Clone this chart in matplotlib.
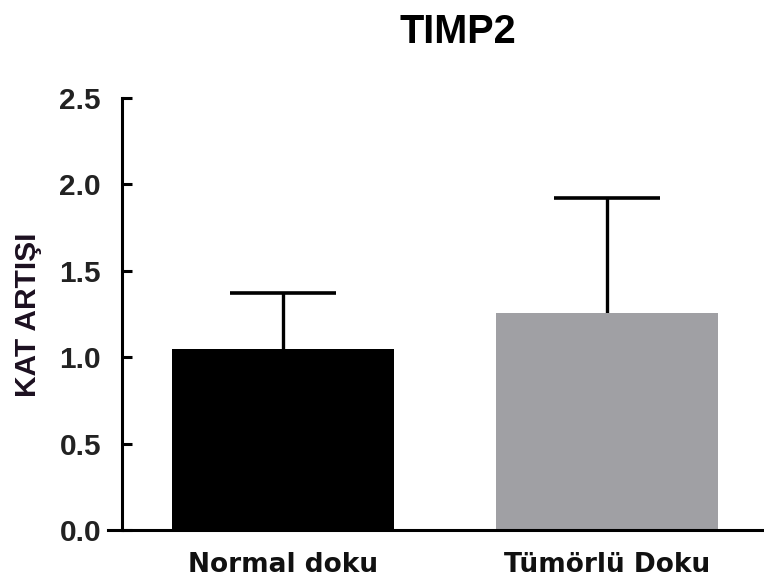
import numpy as np
import matplotlib
matplotlib.use('Agg')
import matplotlib.pyplot as plt

# values
groups = ['Normal doku', 'Tümörlü Doku']
means = [1.05, 1.255]
errs = [0.32, 0.665]
colors = ['#000000', '#a0a0a4']
yticks = [0.0, 0.5, 1.0, 1.5, 2.0, 2.5]

fig = plt.figure(figsize=(7.64, 5.85), dpi=100)
ax = fig.add_axes([108 / 764, 55 / 585, 656 / 764, 432 / 585])

# spines first, set_position resets the ticks
ax.spines['top'].set_visible(False)
ax.spines['right'].set_visible(False)
ax.spines['left'].set_position(('data', -0.497))
ax.spines['left'].set_linewidth(2.2)
ax.spines['bottom'].set_linewidth(2.2)

x = np.arange(len(groups))
ax.bar(x, means, width=0.685, color=colors, zorder=2)
eb = ax.errorbar(x, means, yerr=[np.zeros(len(errs)), errs], fmt='none',
                 ecolor='black', elinewidth=2.4, capsize=38, capthick=2.6, zorder=1)
eb[1][0].set_visible(False)  # no cap at the bar top

ax.set_xlim(-0.540, 1.485)
ax.set_ylim(0, 2.5)
ax.set_yticks(yticks)
ax.set_yticklabels(['%.1f' % t for t in yticks], fontsize=21.5, fontweight='bold',
                   family='Liberation Sans', color='#222222')
ax.set_xticks(x)
ax.set_xticklabels(groups, fontsize=19, fontweight='bold', family='DejaVu Sans',
                   color='#111111')
ax.tick_params(axis='y', direction='in', length=7, width=2.2, pad=15)
ax.tick_params(axis='x', length=0, pad=16)

fig.text(28 / 764, 1 - 315 / 585, 'KAT ARTIŞI', rotation=90, ha='center', va='center',
         fontsize=21.5, fontweight='bold', family='Liberation Sans', color='#1c1020')

fig.text(458 / 764, 1 - 43 / 585, 'TIMP2', ha='center', va='baseline',
         fontsize=28.5, fontweight='bold', family='Liberation Sans')

fig.savefig('out.png', dpi=100)
